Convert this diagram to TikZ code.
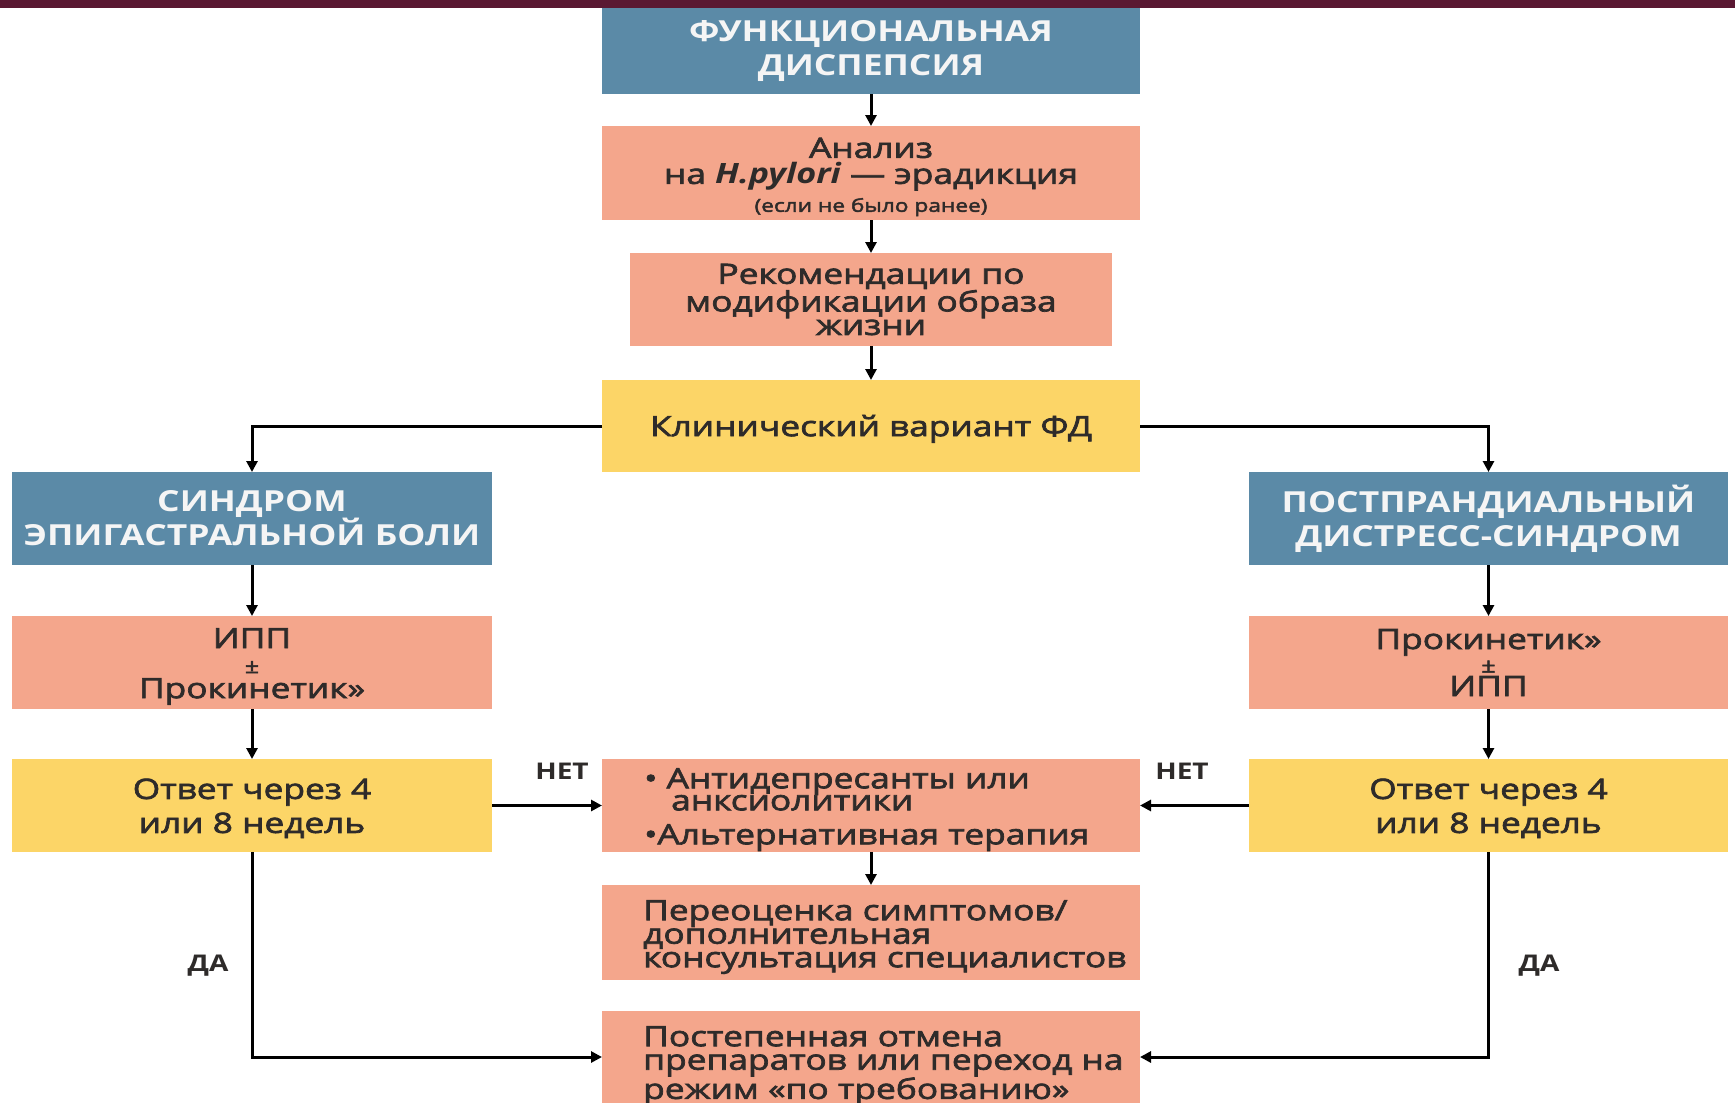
\documentclass[tikz,border=0pt]{standalone}
\usepackage{fontspec}
\setmainfont{Open Sans}[FakeStretch=1.22]
\newfontfamily\bodyf{Open Sans}[FakeStretch=1.26, FakeBold=2.5]
\newfontfamily\hpf{Open Sans}[FakeStretch=1.22]
\usetikzlibrary{arrows.meta}
\definecolor{cblue}{HTML}{5B8AA7}
\definecolor{csal}{HTML}{F4A68C}
\definecolor{cyel}{HTML}{FCD567}
\definecolor{cbar}{HTML}{5A1832}
\definecolor{ctxt}{HTML}{2E2B2A}
\definecolor{cwt}{HTML}{F5F5F5}
\begin{document}
\begin{tikzpicture}[x=1pt,y=-1pt,
  base/.style={rectangle, inner sep=0pt, outer sep=0pt, align=center, text=ctxt},
  bluebox/.style={base, fill=cblue, text=cwt, font=\bfseries\fontsize{29}{34}\selectfont},
  salbox/.style={base, fill=csal, font=\bodyf\fontsize{28}{24}\selectfont},
  yelbox/.style={base, fill=cyel, font=\bodyf\fontsize{28}{34}\selectfont},
  arr/.style={line width=3pt, -{Triangle[length=11pt,width=11pt]}},
  lbl/.style={font=\bfseries\fontsize{23}{26}\selectfont, text=ctxt, inner sep=0pt},
  txt/.style={inner sep=0pt, align=left, text=ctxt},
]
\useasboundingbox (0,0) rectangle (1735,1103);
\fill[white] (0,0) rectangle (1735,1103);
\fill[cbar] (0,0) rectangle (1735,7.5);

\node[bluebox, minimum width=538, minimum height=86] (b1) at (871,51) {ФУНКЦИОНАЛЬНАЯ\\ДИСПЕПСИЯ};
\node[salbox, minimum width=538, minimum height=94, font=\bodyf\fontsize{28}{26}\selectfont] (b2) at (871,173)
  {\rule{0pt}{28pt}Анализ\\на {\hpf\bfseries\itshape H.pylori} — эрадикция\\[2pt]{\fontsize{18}{18}\selectfont (если не было ранее)}};
\node[salbox, minimum width=482, minimum height=93, font=\bodyf\fontsize{28}{23.5}\selectfont] (b3) at (871,299.5)
  {Рекомендации по\\модификации образа\\жизни};
\node[yelbox, minimum width=538, minimum height=92] (b4) at (871,426) {\rule{0pt}{27pt}Клинический вариант ФД};

\node[bluebox, minimum width=480, minimum height=93] (lb) at (252,518.5) {СИНДРОМ\\ЭПИГАСТРАЛЬНОЙ БОЛИ};
\node[bluebox, minimum width=479, minimum height=93] (rb) at (1488.5,518.5) {ПОСТПРАНДИАЛЬНЫЙ\\ДИСТРЕСС-СИНДРОМ};

\node[salbox, minimum width=480, minimum height=93, font=\bodyf\fontsize{28}{25}\selectfont] (ls) at (252,662.5)
  {\rule{0pt}{28pt}ИПП\\{\fontsize{20}{20}\selectfont ±}\\Прокинетик»};
\node[salbox, minimum width=479, minimum height=93, font=\bodyf\fontsize{28}{23.5}\selectfont] (rs) at (1488.5,662.5)
  {Прокинетик»\\{\fontsize{20}{20}\selectfont ±}\\ИПП};

\node[yelbox, minimum width=480, minimum height=93] (ly) at (252,805.5) {\rule{0pt}{26pt}Ответ через 4\\или 8 недель};
\node[yelbox, minimum width=479, minimum height=93] (ry) at (1488.5,805.5) {\rule{0pt}{26pt}Ответ через 4\\или 8 недель};

\node[salbox, minimum width=538, minimum height=93] (c1) at (871,805.5) {};
\node[salbox, minimum width=538, minimum height=95] (c2) at (871,932.5) {};
\node[salbox, minimum width=538, minimum height=92] (c3) at (871,1057) {};

\node[txt, anchor=north west, font=\bodyf\fontsize{28}{22}\selectfont] (c1t) at (644,768)
  {• Антидепресанты или\\\hspace*{27pt}анксиолитики\\[12pt]•Альтернативная терапия};
\node[txt, anchor=north west, font=\bodyf\fontsize{28}{23.5}\selectfont] (c2t) at (643,900)
  {Переоценка симптомов/\\дополнительная\\консультация специалистов};
\node[txt, anchor=north west, font=\bodyf\fontsize{28}{23.5}\selectfont] (c3t) at (643,1026)
  {Постепенная отмена\\препаратов или переход на\\режим «по требованию»};

\node[lbl] (net1) at (562,771) {НЕТ};
\node[lbl] (net2) at (1182,771) {НЕТ};
\node[lbl] (da1) at (208,966) {ДА};
\node[lbl] (da2) at (1539,966) {ДА};

\draw[arr] (b1) -- (b2);
\draw[arr] (b2) -- (b3);
\draw[arr] (b3) -- (b4);
\draw[arr] (b4.west) -| (lb.north);
\draw[arr] (b4.east) -| (rb.north);
\draw[arr] (lb) -- (ls);
\draw[arr] (ls) -- (ly);
\draw[arr] (rb) -- (rs);
\draw[arr] (rs) -- (ry);
\draw[arr] (ly) -- (c1);
\draw[arr] (ry) -- (c1);
\draw[arr] (c1) -- (c2);
\draw[arr] (ly.south) |- (c3.west);
\draw[arr] (ry.south) |- (c3.east);
\end{tikzpicture}
\end{document}
